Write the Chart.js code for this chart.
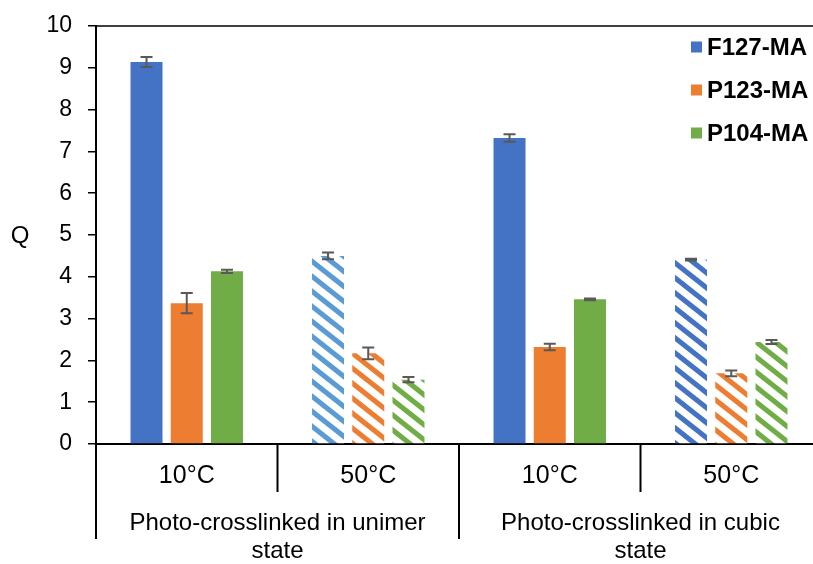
<!DOCTYPE html>
<html><head><meta charset="utf-8">
<script src="https://cdn.jsdelivr.net/npm/chart.js@4.4.1/dist/chart.umd.min.js"></script>
<style>html,body{margin:0;padding:0;background:#fff;overflow:hidden}
#wrap{width:813px;height:564px;overflow:hidden;position:relative}
canvas{display:block}
</style></head><body>
<div id="wrap"><canvas id="c" width="822" height="564" style="width:822px;height:564px"></canvas></div>
<script>
const categories = ['10°C', '50°C', '10°C', '50°C'];
const groups = [['Photo-crosslinked in unimer', 'state'], ['Photo-crosslinked in cubic', 'state']];
const seriesNames = ['F127-MA', 'P123-MA', 'P104-MA'];
const f127 = [9.14, 4.50, 7.32, 4.41];
const p123 = [3.37, 2.17, 2.32, 1.69];
const p104 = [4.13, 1.54, 3.46, 2.44];
const f127Err = [0.12, 0.08, 0.09, 0.02];
const p123Err = [0.24, 0.14, 0.08, 0.07];
const p104Err = [0.04, 0.06, 0.02, 0.05];
const yMin = 0, yMax = 10, yStep = 1;

const FONT = "'Liberation Sans', Arial, sans-serif";
const BLUE = '#4472C4', LBLUE = '#5B9BD5', ORANGE = '#ED7D31', GREEN = '#70AD47';

function hatch(color) {
  const w = 19, h = 15;
  const c = document.createElement('canvas');
  c.width = w; c.height = h;
  const g = c.getContext('2d');
  g.fillStyle = '#fff'; g.fillRect(0, 0, w, h);
  g.strokeStyle = color; g.lineWidth = 5;
  for (const dx of [-2 * w, -w, 0, w, 2 * w]) {
    g.beginPath();
    g.moveTo(dx - w, -h); g.lineTo(dx + 2 * w, 2 * h);
    g.stroke();
  }
  return g.createPattern(c, 'repeat');
}

const datasets = [
  {label: seriesNames[0], data: f127, err: f127Err, solid: BLUE,
   backgroundColor: [BLUE, hatch(LBLUE), BLUE, hatch(BLUE)]},
  {label: seriesNames[1], data: p123, err: p123Err, solid: ORANGE,
   backgroundColor: [ORANGE, hatch(ORANGE), ORANGE, hatch(ORANGE)]},
  {label: seriesNames[2], data: p104, err: p104Err, solid: GREEN,
   backgroundColor: [GREEN, hatch(GREEN), GREEN, hatch(GREEN)]}
].map(d => Object.assign(d, {xAxisID: 'x', yAxisID: 'y', categoryPercentage: 0.665, barPercentage: 0.795, borderWidth: 0}));

const decor = {
  id: 'decor',
  afterDatasetsDraw(chart) {
    const ctx = chart.ctx, y = chart.scales.y;
    ctx.save();
    ctx.strokeStyle = '#595959';
    ctx.lineWidth = 2;
    chart.data.datasets.forEach((ds, di) => {
      const meta = chart.getDatasetMeta(di);
      meta.data.forEach((el, i) => {
        const v = ds.data[i], e = ds.err[i];
        const yt = y.getPixelForValue(v + e), yb = y.getPixelForValue(v - e);
        const x = el.x;
        ctx.beginPath();
        ctx.moveTo(x, yt); ctx.lineTo(x, yb);
        ctx.moveTo(x - 6, yt); ctx.lineTo(x + 6, yt);
        ctx.moveTo(x - 6, yb); ctx.lineTo(x + 6, yb);
        ctx.stroke();
      });
    });
    ctx.restore();
  },
  afterDraw(chart) {
    const ctx = chart.ctx, ca = chart.chartArea, x = chart.scales.x, y = chart.scales.y;
    ctx.save();
    ctx.strokeStyle = '#000';
    ctx.lineWidth = 1.5;
    const yt = y.getPixelForValue(yMax);
    ctx.beginPath(); ctx.moveTo(ca.left, yt); ctx.lineTo(ca.right, yt); ctx.stroke();
    const n = categories.length;
    const half = (x.getPixelForValue(1) - x.getPixelForValue(0)) / 2;
    ctx.lineWidth = 2;
    for (let i = 0; i <= n; i++) {
      const px = i < n ? x.getPixelForValue(i) - half : x.getPixelForValue(n - 1) + half;
      const long = (i % 2 === 0);
      ctx.beginPath();
      ctx.moveTo(px, ca.bottom);
      ctx.lineTo(px, ca.bottom + (long ? 95 : 48));
      ctx.stroke();
    }
    ctx.fillStyle = '#000';
    ctx.font = '24px ' + FONT;
    ctx.textAlign = 'center'; ctx.textBaseline = 'middle';
    ctx.fillText('Q', 20, (y.getPixelForValue(yMin) + y.getPixelForValue(yMax)) / 2 + 1);
    ctx.font = 'bold 24px ' + FONT;
    ctx.textAlign = 'left';
    chart.data.datasets.forEach((ds, i) => {
      const cy = 47 + i * 43;
      ctx.fillStyle = ds.solid;
      ctx.fillRect(691, cy - 5.5, 11, 11);
      ctx.fillStyle = '#000';
      ctx.fillText(ds.label, 707, cy + 1);
    });
    ctx.restore();
  }
};

new Chart(document.getElementById('c'), {
  type: 'bar',
  data: {labels: categories, datasets},
  options: {
    responsive: false,
    animation: false,
    devicePixelRatio: 1,
    layout: {padding: {top: 26, left: 0, right: 0, bottom: 0}},
    plugins: {legend: {display: false}, tooltip: {enabled: false}},
    scales: {
      y: {
        min: yMin, max: yMax,
        ticks: {stepSize: yStep, color: '#000', font: {family: FONT, size: 23}, padding: 16},
        grid: {display: true, drawOnChartArea: false, drawTicks: true, tickLength: 8, color: '#000', lineWidth: 1.5},
        border: {display: true, color: '#000', width: 2},
        afterFit(s) { s.width = 96; s.paddingTop = 0; s.paddingBottom = 0; }
      },
      x: {
        position: 'bottom',
        ticks: {color: '#000', font: {family: FONT, size: 25}, padding: 17},
        grid: {display: false, drawTicks: false},
        border: {display: true, color: '#000', width: 2},
        afterFit(s) { s.height = 48; }
      },
      x2: {
        type: 'category',
        position: 'bottom',
        labels: groups,
        offset: true,
        ticks: {color: '#000', font: {family: FONT, size: 24, lineHeight: 1.17}, padding: 17},
        grid: {display: false, drawTicks: false},
        border: {display: false},
        afterFit(s) { s.height = 72; }
      }
    }
  },
  plugins: [decor]
});
</script>
</body></html>
